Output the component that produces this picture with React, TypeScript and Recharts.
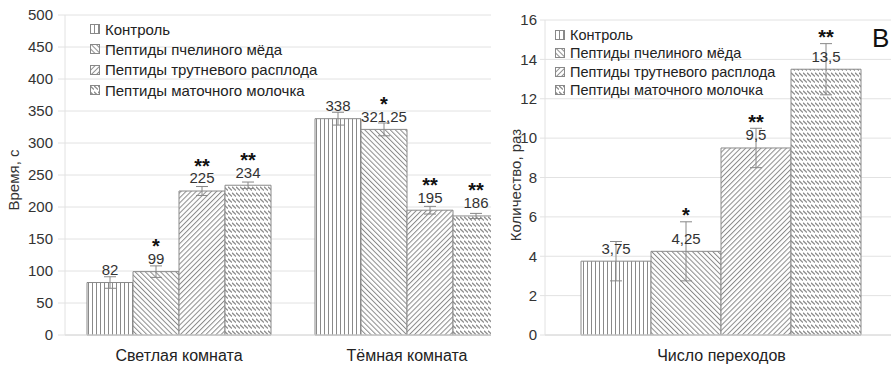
import { BarChart, Bar, XAxis, YAxis, CartesianGrid, ErrorBar, LabelList } from 'recharts'

const FONT = '"Liberation Sans", Arial, sans-serif'

const seriesNames = [
  'Контроль',
  'Пептиды пчелиного мёда',
  'Пептиды трутневого расплода',
  'Пептиды маточного молочка',
]
const patternIds = ['hatch-vert', 'hatch-back', 'hatch-fwd', 'hatch-zig']

// left panel: time in lit / dark room
const roomCategories = ['Светлая комната', 'Тёмная комната']
const roomControl = [82, 338]
const roomHoney = [99, 321.25]
const roomBrood = [225, 195]
const roomJelly = [234, 186]
const roomControlErr = [9, 10]
const roomHoneyErr = [9, 10]
const roomBroodErr = [7, 6]
const roomJellyErr = [5, 4]
const roomControlSig = ['', '']
const roomHoneySig = ['*', '*']
const roomBroodSig = ['**', '**']
const roomJellySig = ['**', '**']
const timeTicks = [0, 50, 100, 150, 200, 250, 300, 350, 400, 450, 500]

// right panel: number of transitions
const crossCategories = ['Число переходов']
const crossControl = [3.75]
const crossHoney = [4.25]
const crossBrood = [9.5]
const crossJelly = [13.5]
const crossControlErr = [1]
const crossHoneyErr = [1.5]
const crossBroodErr = [1]
const crossJellyErr = [1.3]
const crossControlSig = ['']
const crossHoneySig = ['*']
const crossBroodSig = ['**']
const crossJellySig = ['**']
const countTicks = [0, 2, 4, 6, 8, 10, 12, 14, 16]

const buildRows = (cats: string[], series: number[][], errs: number[][]) =>
  cats.map((name, i) => {
    const row: Record<string, string | number> = { name }
    series.forEach((vals, s) => {
      row[`s${s}`] = vals[i]
      row[`e${s}`] = errs[s][i]
    })
    return row
  })

const timeSeries = [roomControl, roomHoney, roomBrood, roomJelly]
const timeErrs = [roomControlErr, roomHoneyErr, roomBroodErr, roomJellyErr]
const timeSigs = [roomControlSig, roomHoneySig, roomBroodSig, roomJellySig]
const timeRows = buildRows(roomCategories, timeSeries, timeErrs)

const crossSeries = [crossControl, crossHoney, crossBrood, crossJelly]
const crossErrs = [crossControlErr, crossHoneyErr, crossBroodErr, crossJellyErr]
const crossSigs = [crossControlSig, crossHoneySig, crossBroodSig, crossJellySig]
const crossRows = buildRows(crossCategories, crossSeries, crossErrs)

const fmt = (v: number) => String(v).replace('.', ',')

const makeLabel = (vals: number[], errs: number[], sigs: string[]) => (props: any) => {
  const vb = props.viewBox || {}
  const x = Number(props.x ?? vb.x)
  const y = Number(props.y ?? vb.y)
  const w = Number(props.width ?? vb.width)
  const h = Number(props.height ?? vb.height)
  const i = props.index ?? 0
  const v = vals[i]
  const cx = x + w / 2
  const perUnit = h / v
  const errTop = y - errs[i] * perUnit
  const labelY = y - 13
  const starY = Math.min(labelY - 17, errTop - 11)
  return (
    <g>
      <text x={cx} y={labelY} dy="0.36em" textAnchor="middle" fontSize={15} fill="#333" fontFamily={FONT}>
        {fmt(v)}
      </text>
      {sigs[i] ? (
        <text x={cx} y={starY + 11.5} textAnchor="middle" fontSize={20} fontWeight="bold" fill="#111" fontFamily={FONT}>
          {sigs[i]}
        </text>
      ) : null}
    </g>
  )
}

const LegendBox = ({ left, top, rowH, fontSize }: { left: number; top: number; rowH: number; fontSize: number }) => (
  <div style={{ position: 'absolute', left, top, fontFamily: FONT, fontSize, color: '#222' }}>
    {seriesNames.map((n, i) => (
      <div key={n} style={{ height: rowH, display: 'flex', alignItems: 'center', whiteSpace: 'nowrap' }}>
        <svg width={10} height={10} style={{ marginRight: 5 }}>
          <rect x={0.5} y={0.5} width={9} height={9} fill={`url(#${patternIds[i]})`} stroke="#888" />
        </svg>
        {n}
      </div>
    ))}
  </div>
)

const Patterns = () => (
  <svg width={0} height={0} style={{ position: 'absolute' }}>
    <defs>
      <pattern id="hatch-vert" patternUnits="userSpaceOnUse" width={4} height={4}>
        <rect width={4} height={4} fill="#fff" />
        <line x1={0.5} y1={0} x2={0.5} y2={4} stroke="#8a8a8a" strokeWidth={1} />
      </pattern>
      <pattern id="hatch-back" patternUnits="userSpaceOnUse" width={3.6} height={3.6} patternTransform="rotate(-45)">
        <rect width={3.6} height={3.6} fill="#fff" />
        <line x1={0.5} y1={0} x2={0.5} y2={3.6} stroke="#8a8a8a" strokeWidth={1} />
      </pattern>
      <pattern id="hatch-fwd" patternUnits="userSpaceOnUse" width={3.6} height={3.6} patternTransform="rotate(45)">
        <rect width={3.6} height={3.6} fill="#fff" />
        <line x1={0.5} y1={0} x2={0.5} y2={3.6} stroke="#8a8a8a" strokeWidth={1} />
      </pattern>
      <pattern id="hatch-zig" patternUnits="userSpaceOnUse" width={4} height={6}>
        <rect width={4} height={6} fill="#fff" />
        <line x1={0} y1={0.8} x2={4} y2={4.6} stroke="#8a8a8a" strokeWidth={1.2} />
      </pattern>
    </defs>
  </svg>
)

const axisTick = { fontSize: 15, fill: '#333', fontFamily: FONT }
const catTick = { fontSize: 16, fill: '#222', fontFamily: FONT }

export default function App() {
  return (
    <div style={{ position: 'absolute', left: 0, top: 0, width: 891, height: 366, background: '#fff', overflow: 'hidden' }}>
      <Patterns />
      <div style={{ position: 'absolute', left: 0, top: 0, width: 491, height: 366, overflow: 'hidden' }}>
        <BarChart
          width={540}
          height={366}
          data={timeRows}
          margin={{ top: 15, right: 19, bottom: 0, left: 0 }}
          barGap={0}
          barCategoryGap={22}
        >
          <CartesianGrid vertical={false} stroke="#e2e2e2" />
          <XAxis
            dataKey="name"
            height={31}
            axisLine={{ stroke: '#d8d8d8' }}
            tickLine={false}
            tickSize={0}
            tickMargin={15}
            tick={catTick}
          />
          <YAxis
            width={65}
            domain={[0, 500]}
            ticks={timeTicks}
            interval={0}
            axisLine={{ stroke: '#e2e2e2' }}
            tickLine={{ stroke: '#e2e2e2' }}
            tickSize={7}
            tickMargin={5}
            tick={axisTick}
          />
          {timeSeries.map((vals, s) => (
            <Bar
              key={s}
              dataKey={`s${s}`}
              name={seriesNames[s]}
              fill={`url(#${patternIds[s]})`}
              stroke="#8a8a8a"
              strokeWidth={1}
              isAnimationActive={false}
            >
              <ErrorBar dataKey={`e${s}`} width={6} stroke="#888" strokeWidth={1} isAnimationActive={false} />
              <LabelList content={makeLabel(vals, timeErrs[s], timeSigs[s])} />
            </Bar>
          ))}
        </BarChart>
        <LegendBox left={90} top={19} rowH={20.3} fontSize={15} />
      </div>
      <div style={{ position: 'absolute', left: 491, top: 0, width: 400, height: 366, overflow: 'hidden', background: '#fff' }}>
        <BarChart
          width={407}
          height={366}
          data={crossRows}
          margin={{ top: 20, right: 0, bottom: 0, left: 0 }}
          barGap={0}
          barCategoryGap={36}
        >
          <CartesianGrid vertical={false} stroke="#e2e2e2" />
          <XAxis
            dataKey="name"
            height={31}
            axisLine={{ stroke: '#d8d8d8' }}
            tickLine={false}
            tickSize={0}
            tickMargin={15}
            tick={catTick}
          />
          <YAxis
            width={54}
            domain={[0, 16]}
            ticks={countTicks}
            interval={0}
            axisLine={{ stroke: '#e2e2e2' }}
            tickLine={{ stroke: '#e2e2e2' }}
            tickSize={5}
            tickMargin={3}
            tick={axisTick}
          />
          {crossSeries.map((vals, s) => (
            <Bar
              key={s}
              dataKey={`s${s}`}
              name={seriesNames[s]}
              fill={`url(#${patternIds[s]})`}
              stroke="#8a8a8a"
              strokeWidth={1}
              isAnimationActive={false}
            >
              <ErrorBar dataKey={`e${s}`} width={6} stroke="#888" strokeWidth={1} isAnimationActive={false} />
              <LabelList content={makeLabel(vals, crossErrs[s], crossSigs[s])} />
            </Bar>
          ))}
        </BarChart>
        <LegendBox left={64} top={26} rowH={18.3} fontSize={14.5} />
      </div>
      <svg width={891} height={366} style={{ position: 'absolute', left: 0, top: 0, pointerEvents: 'none' }}>
        <text x={13} y={180} transform="rotate(-90 13 180)" textAnchor="middle" dominantBaseline="central" fontSize={15} fill="#333" fontFamily={FONT}>
          Время, с
        </text>
        <text x={515} y={185} transform="rotate(-90 515 185)" textAnchor="middle" dominantBaseline="central" fontSize={15} fill="#333" fontFamily={FONT}>
          Количество, раз
        </text>
        <text x={872} y={47} fontSize={26} fill="#111" fontFamily={FONT}>
          B
        </text>
      </svg>
    </div>
  )
}
